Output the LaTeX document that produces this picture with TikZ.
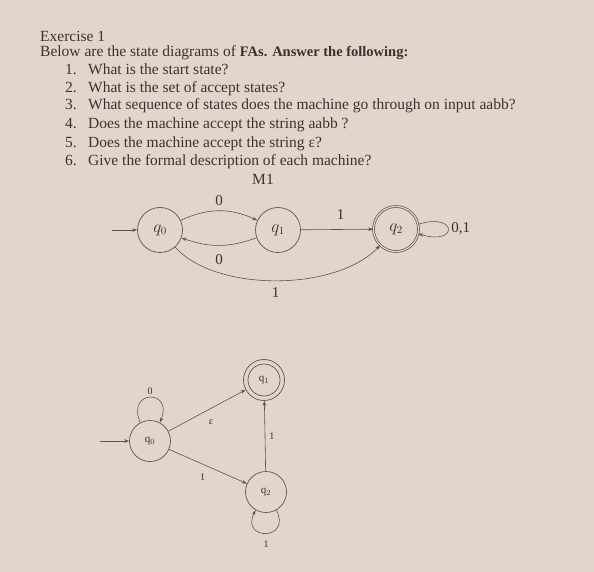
\documentclass[tikz,border=0pt]{standalone}
\usepackage{fontspec}
\setmainfont{Liberation Serif}
\usetikzlibrary{arrows.meta}
\definecolor{paper}{RGB}{226,214,204}
\definecolor{ink}{RGB}{58,50,48}
\definecolor{lineink}{RGB}{92,84,80}
\begin{document}
\begin{tikzpicture}[x=1pt,y=1pt,
  txt/.style={anchor=base west, inner sep=0pt, text=ink, font=\fontsize{15.5}{18}\selectfont},
  itm/.style={txt},
  st/.style={circle, draw=lineink, line width=0.7pt, minimum size=45pt, inner sep=0pt, text=ink, font=\fontsize{16}{18}\selectfont},
  sst/.style={circle, draw=lineink, line width=0.7pt, minimum size=41pt, inner sep=0pt, text=ink, font=\fontsize{11}{12}\selectfont},
  tr/.style={draw=lineink, line width=0.6pt, -{Stealth[length=5pt,width=3.5pt]}},
  lab/.style={text=ink, font=\fontsize{15}{18}\selectfont, inner sep=0pt},
  slab/.style={text=ink, font=\fontsize{10}{12}\selectfont, inner sep=0pt}]
\fill[paper] (0,0) rectangle (594,-572);
\useasboundingbox (0,0) rectangle (594,-572);
% text
\node[txt] (ex) at (40,-42) {Exercise 1};
\node[txt] (intro) at (40,-57) {Below are the state diagrams of {\fontsize{14.5}{18}\selectfont\bfseries FAs. Answer the following:}};
\node[itm] (i1) at (65,-75) {\makebox[23pt][l]{1.}What is the start state?};
\node[itm] (i2) at (65,-93) {\makebox[23pt][l]{2.}What is the set of accept states?};
\node[itm] (i3) at (65,-110) {\makebox[23pt][l]{3.}What sequence of states does the machine go through on input aabb?};
\node[itm] (i4) at (65,-129) {\makebox[23pt][l]{4.}Does the machine accept the string aabb ?};
\node[itm] (i5) at (65,-148) {\makebox[23pt][l]{5.}Does the machine accept the string ε?};
\node[itm] (i6) at (65,-166) {\makebox[23pt][l]{6.}Give the formal description of each machine?};
\node[txt, anchor=base] (m1) at (263,-185) {M1};
% upper machine
\node[st] (a0) at (160,-230) {$q_0$};
\node[st] (a1) at (278,-230) {$q_1$};
\node[st, double=paper, double distance=1.2pt] (a2) at (396,-229) {$q_2$};
\coordinate (as) at (112,-230);
\draw[tr] (as) -- (a0);
\draw[tr] (a0) to[bend left=25] node[lab, midway, above=5pt] {0} (a1);
\draw[tr] (a1) to[bend left=20] node[lab, midway, below=9pt] {0} (a0);
\draw[tr] (a1) -- node[lab, pos=0.55, above=10pt] {1} (a2);
\draw[tr] (a0) .. controls (215,-292) and (335,-292) .. node[lab, pos=0.5, below=7pt] {1} (a2);
\draw[tr] (a2.12) .. controls (458,-212) and (458,-246) .. node[lab, pos=0.5, right=3pt] {0,1} (a2.-12);
% lower machine
\node[sst] (b0) at (150,-441) {q$_0$};
\node[sst] (b1) at (264,-380) {q$_1$};
\draw[lineink, line width=0.7pt] (b1) circle (16pt);
\node[sst] (b2) at (266,-492) {q$_2$};
\coordinate (bs) at (100,-441);
\draw[tr] (bs) -- (b0);
\draw[tr] (b0) -- node[slab, pos=0.55, yshift=-14pt] {ε} (b1);
\draw[tr] (b0) -- node[slab, pos=0.43, yshift=-13pt] {1} (b2);
\draw[tr] (b2) -- node[slab, right=4pt] {1} (b1);
\draw[tr] (b0.118) .. controls (126,-389) and (174,-389) .. node[slab, pos=0.5, above=3pt] {0} (b0.62);
\draw[tr] (b2.-60) .. controls (292,-541) and (240,-541) .. node[slab, pos=0.5, below=7pt] {1} (b2.-120);
\end{tikzpicture}
\end{document}
